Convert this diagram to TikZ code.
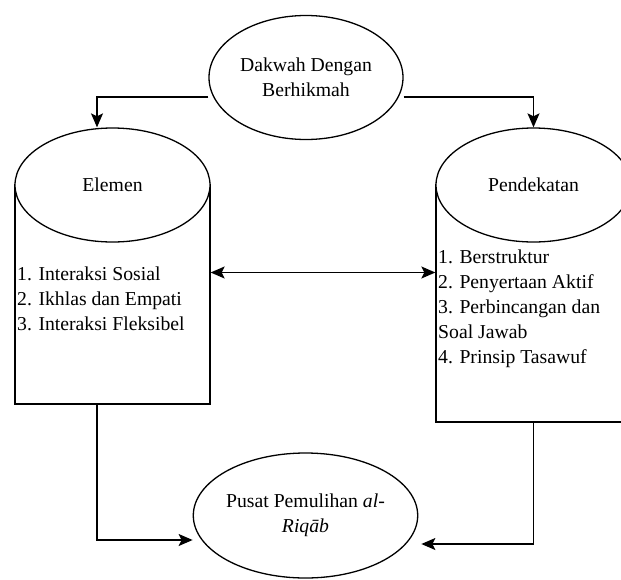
\documentclass[tikz,border=0pt]{standalone}
\usepackage{fontspec}
\setmainfont{Liberation Serif}
\usetikzlibrary{arrows.meta,shapes.geometric}
\begin{document}
\begin{tikzpicture}[x=1pt,y=-1pt,
  txt/.style={font=\fontsize{19.7}{25}\selectfont, inner sep=0pt},
  oval/.style={ellipse, draw, line width=1.3pt, fill=white, inner sep=0pt, txt, align=center},
  box/.style={rectangle, draw, line width=1.3pt, inner sep=0pt},
  conn/.style={line width=1.3pt}
]
\useasboundingbox (0,0) rectangle (621,579);
\clip (0,0) rectangle (621,579);
\fill[white] (0,0) rectangle (621,579);

% top
\node[oval, minimum width=194pt, minimum height=124pt] (top) at (306,77.5) {Dakwah Dengan\\Berhikmah};

% left cylinder
\node[box, minimum width=195pt, minimum height=219pt] (elemrect) at (112.5,294.5) {};
\node[oval, minimum width=195pt, minimum height=114pt] (elem) at (112.5,185) {Elemen};
\node[txt, align=left, anchor=north west] (elemlist) at (17,267) {1. Interaksi Sosial\\2. Ikhlas dan Empati\\3. Interaksi Fleksibel};

% right cylinder
\node[box, minimum width=195pt, minimum height=237pt] (penrect) at (533.5,303.5) {};
\node[oval, minimum width=195pt, minimum height=114pt] (pen) at (533.5,185) {Pendekatan};
\node[txt, align=left, anchor=north west] (penlist) at (438,250) {1. Berstruktur\\2. Penyertaan Aktif\\3. Perbincangan dan\\Soal Jawab\\4. Prinsip Tasawuf};

% bottom
\node[oval, minimum width=195pt, minimum height=125pt] (bot) at (305.5,515.5) {Pusat Pemulihan \textit{al-}\\\textit{Riqāb}};

% connectors
\coordinate (mid) at (0,272.5);
\draw[conn, -{Stealth[length=14pt,width=12pt,inset=3pt]}] ([yshift=-19.5pt]top.west) -| ([xshift=-15.5pt]elem.north);
\draw[conn, -{Stealth[length=14pt,width=12pt,inset=3pt]}] ([yshift=-19.5pt]top.east) -| (pen.north);
\draw[conn, {Stealth[length=14pt,width=12pt,inset=3pt]}-{Stealth[length=14pt,width=12pt,inset=3pt]}] (elemrect.east |- mid) -- (penrect.west |- mid);
\draw[conn, -{Stealth[length=14pt,width=12pt,inset=3pt]}] ([xshift=-15.5pt]elemrect.south) |- ([yshift=-24.5pt]bot.west);
\draw[conn, -{Stealth[length=14pt,width=12pt,inset=3pt]}] (penrect.south) |- ([yshift=-28.5pt,xshift=3pt]bot.east);
\end{tikzpicture}
\end{document}
